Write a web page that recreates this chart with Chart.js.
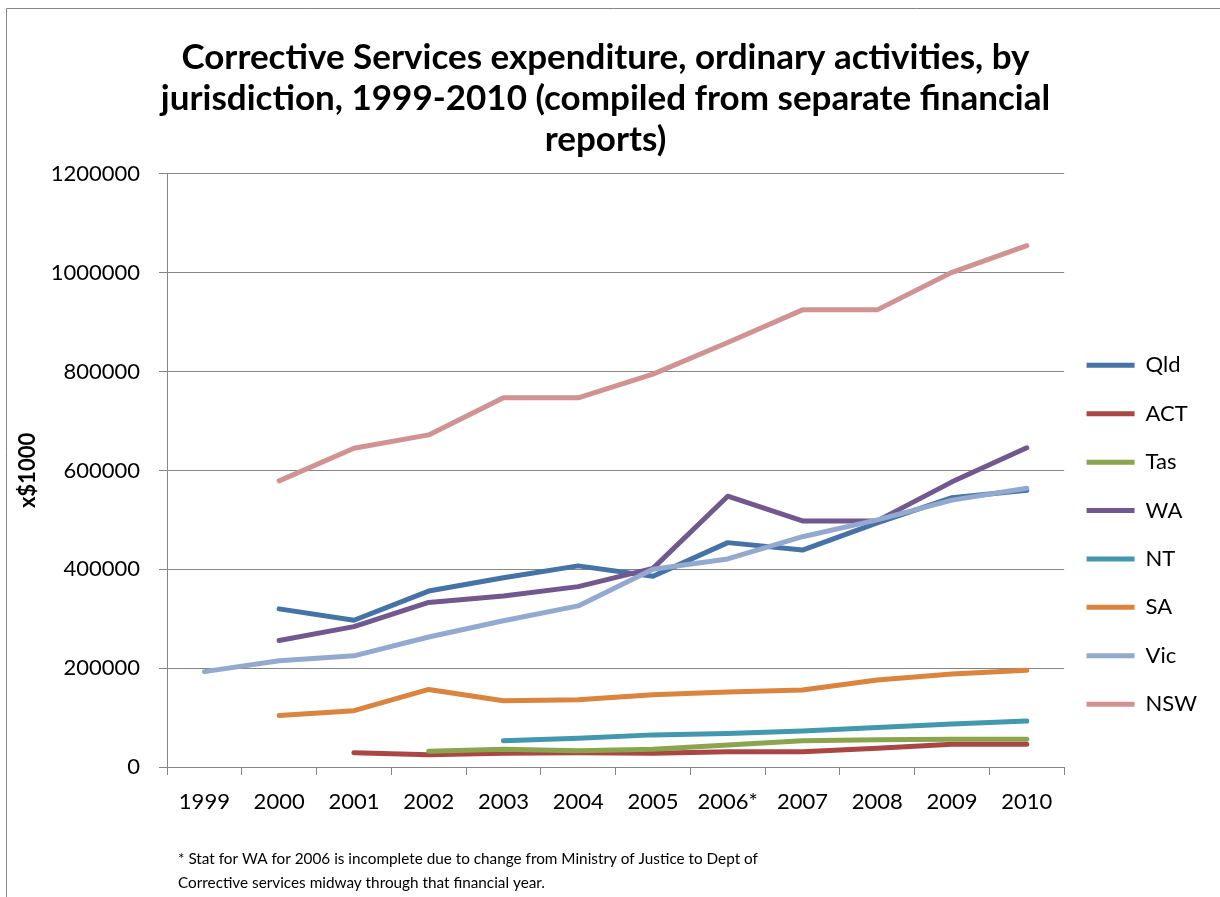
<!DOCTYPE html>
<html>
<head>
<meta charset="utf-8">
<script src="https://cdn.jsdelivr.net/npm/chart.js@4.4.0/dist/chart.umd.min.js"></script>
<style>
  html, body { margin: 0; padding: 0; background: #fff; }
  #wrap { width: 1220px; height: 897px; position: relative; }
</style>
</head>
<body>
<div id="wrap"><canvas id="chart"></canvas></div>
<script>
// Data (x$1000)
const years = ['1999', '2000', '2001', '2002', '2003', '2004', '2005', '2006*', '2007', '2008', '2009', '2010'];
const qld = [null, 320000, 297000, 356000, 383000, 407000, 386000, 454000, 439000, 494000, 545000, 560000];
const act = [null, null, 29000, 25000, 28000, 29000, 28000, 31000, 31000, 38000, 46000, 46000];
const tas = [null, null, null, 32000, 36000, 33000, 36000, 44500, 53000, 55000, 56000, 56000];
const wa  = [null, 256000, 284000, 333000, 346000, 365000, 402000, 548000, 498000, 498000, 577000, 646000];
const nt  = [null, null, null, null, 53000, 58000, 65000, 68000, 73000, 80000, 87000, 93000];
const sa  = [null, 104000, 114000, 157000, 134000, 136000, 146000, 152000, 156000, 176000, 188000, 196000];
const vic = [193000, 215000, 225000, 263000, 296000, 326000, 400000, 421000, 466000, 500000, 540000, 564000];
const nsw = [null, 579000, 645000, 672000, 747000, 747000, 795000, 859000, 925000, 925000, 1001000, 1055000];

const seriesNames = ['Qld', 'ACT', 'Tas', 'WA', 'NT', 'SA', 'Vic', 'NSW'];
const seriesData = [qld, act, tas, wa, nt, sa, vic, nsw];
const seriesColors = ['#4572A7', '#AA4643', '#89A54E', '#71588F', '#4198AF', '#DB843D', '#93A9CF', '#D19392'];

const titleLines = [
  'Corrective Services expenditure, ordinary activities, by',
  'jurisdiction, 1999-2010 (compiled from separate financial',
  'reports)'
];
const footnote = [
  '* Stat for WA for 2006 is incomplete due to change from Ministry of Justice to Dept of',
  'Corrective services midway through that financial year.'
];

const gray = '#868686';
Chart.defaults.font.family = 'Lato, "Open Sans", sans-serif';
Chart.defaults.color = '#000';

// frame round the chart object, legend nudge, and the footnote under the axis
const extras = {
  id: 'extras',
  afterLayout(chart) {
    // legend sits a little closer to the plot in the original
    chart.legend.left -= 4;
    chart.legend.right -= 4;
  },
  beforeDraw(chart) {
    const c = chart.ctx;
    c.save();
    c.strokeStyle = gray;
    c.lineWidth = 1;
    c.beginPath();
    c.moveTo(6.5, 897);
    c.lineTo(6.5, 8.5);
    c.lineTo(1220, 8.5);
    c.stroke();
    c.restore();
  },
  afterDraw(chart) {
    const c = chart.ctx;
    c.save();
    c.fillStyle = '#000';
    c.font = '15.3px Lato, "Open Sans", sans-serif';
    c.textBaseline = 'middle';
    c.fillText(footnote[0], 178, 859);
    c.fillText(footnote[1], 178, 883);
    c.restore();
  }
};

new Chart(document.getElementById('chart'), {
  type: 'line',
  data: {
    labels: years,
    datasets: seriesNames.map((name, i) => ({
      label: name,
      data: seriesData[i],
      borderColor: seriesColors[i],
      backgroundColor: seriesColors[i],
      borderWidth: 5,
      borderCapStyle: 'round',
      borderJoinStyle: 'round',
      pointRadius: 0,
      pointHoverRadius: 0,
      tension: 0,
      order: seriesNames.length - i
    }))
  },
  options: {
    responsive: true,
    maintainAspectRatio: false,
    animation: false,
    layout: { padding: { left: 0, right: 9, top: 0, bottom: 70 } },
    plugins: {
      tooltip: { enabled: false },
      title: {
        display: true,
        text: titleLines,
        font: { size: 35, weight: 'bold', lineHeight: 1.171 },
        padding: { top: 37.5, bottom: 13.5 }
      },
      legend: {
        position: 'right',
        align: 'start',
        fullSize: false,
        title: { display: true, text: '', font: { size: 10 }, padding: { top: 142, bottom: 0 } },
        labels: {
          usePointStyle: true,
          pointStyle: 'line',
          pointStyleWidth: 48,
          padding: 26.4,
          font: { size: 22 },
          color: '#000',
          sort: (a, b) => a.datasetIndex - b.datasetIndex
        }
      }
    },
    scales: {
      x: {
        offset: true,
        afterFit: (s) => { s.height = 60; },
        grid: { offset: true, drawOnChartArea: false, drawTicks: true, tickLength: 8, color: gray },
        border: { display: true, color: gray, width: 1 },
        ticks: { font: { size: 22 }, padding: 14, maxRotation: 0, autoSkip: false, color: '#000' }
      },
      y: {
        min: 0,
        max: 1200000,
        afterFit: (s) => { s.width = 167; },
        grid: { color: gray, lineWidth: 1, tickLength: 8 },
        border: { display: true, color: gray, width: 1 },
        ticks: {
          stepSize: 200000,
          font: { size: 22 },
          padding: 19,
          color: '#000',
          callback: (v) => String(v)
        },
        title: {
          display: true,
          text: 'x$1000',
          font: { size: 22, weight: 'bold' },
          padding: { top: 15, bottom: 0 },
          color: '#000'
        }
      }
    }
  },
  plugins: [extras]
});
</script>
</body>
</html>
